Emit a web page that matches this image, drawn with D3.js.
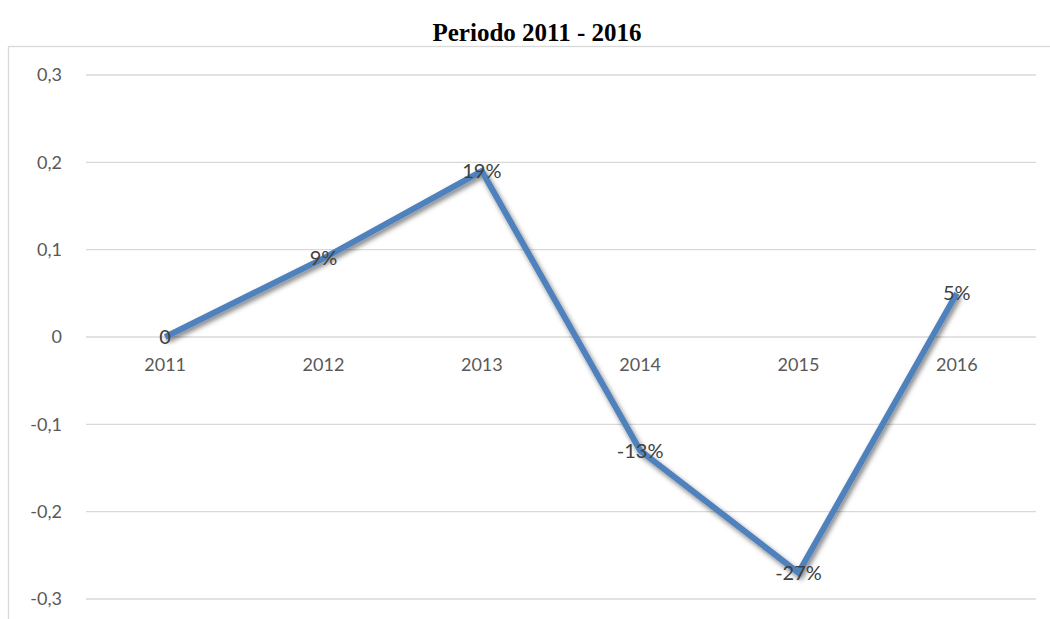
<!DOCTYPE html>
<html>
<head>
<meta charset="utf-8">
<script src="https://cdn.jsdelivr.net/npm/d3@7"></script>
<style>
  body { margin: 0; background: #fff; }
  svg { display: block; }
</style>
</head>
<body>
<svg id="chart"></svg>
<script>
const width = 1050;
const height = 619;

const years = ["2011", "2012", "2013", "2014", "2015", "2016"];
const values = [0, 0.09, 0.19, -0.13, -0.27, 0.05];
const labels = ["0", "9%", "19%", "-13%", "-27%", "5%"];
const yTicks = [0.3, 0.2, 0.1, 0, -0.1, -0.2, -0.3];
const yTickLabels = ["0,3", "0,2", "0,1", "0", "-0,1", "-0,2", "-0,3"];

const svg = d3.select("#chart")
    .attr("width", width)
    .attr("height", height);

// shadow under the line
const defs = svg.append("defs");
const shadow = defs.append("filter")
    .attr("id", "shadow")
    .attr("x", "-10%").attr("y", "-10%")
    .attr("width", "120%").attr("height", "120%");
shadow.append("feDropShadow")
    .attr("dx", 2).attr("dy", 3)
    .attr("stdDeviation", 2.5)
    .attr("flood-color", "#000")
    .attr("flood-opacity", 0.5);

// chart area border
svg.append("rect")
    .attr("x", 8.5).attr("y", 46.5)
    .attr("width", 1100).attr("height", 700)
    .attr("fill", "none")
    .attr("stroke", "#d9d9d9")
    .attr("stroke-width", 1.3);

svg.append("text")
    .attr("x", 537).attr("y", 41)
    .attr("text-anchor", "middle")
    .style("font-family", "'Liberation Serif', 'Times New Roman', serif")
    .style("font-weight", "bold")
    .style("font-size", "25px")
    .attr("fill", "#000")
    .text("Periodo 2011 - 2016");

const x = d3.scaleBand()
    .domain(years)
    .range([86, 1036]);

const y = d3.scaleLinear()
    .domain([-0.3, 0.3])
    .range([599, 75]);

// gridlines
svg.append("g")
    .selectAll("line")
    .data(yTicks)
    .join("line")
    .attr("x1", 86).attr("x2", 1036)
    .attr("y1", d => y(d)).attr("y2", d => y(d))
    .attr("stroke", "#d9d9d9")
    .attr("stroke-width", 1.3);

const axisFont = "Lato, 'Open Sans', sans-serif";

// y axis labels
svg.append("g")
    .selectAll("text")
    .data(yTicks)
    .join("text")
    .attr("x", 62)
    .attr("y", d => y(d))
    .attr("dy", "0.35em")
    .attr("text-anchor", "end")
    .style("font-family", axisFont)
    .style("font-size", "18px")
    .attr("fill", "#595959")
    .text((d, i) => yTickLabels[i]);

// x axis labels (sit just below zero line)
svg.append("g")
    .selectAll("text")
    .data(years)
    .join("text")
    .attr("x", d => x(d) + x.bandwidth() / 2)
    .attr("y", y(0) + 28)
    .attr("dy", "0.35em")
    .attr("text-anchor", "middle")
    .style("font-family", axisFont)
    .style("font-size", "18px")
    .attr("fill", "#595959")
    .text(d => d);

const line = d3.line()
    .x((d, i) => x(years[i]) + x.bandwidth() / 2)
    .y(d => y(d));

svg.append("path")
    .datum(values)
    .attr("d", line)
    .attr("fill", "none")
    .attr("stroke", "#4f81bd")
    .attr("stroke-width", 6)
    .attr("stroke-linejoin", "miter")
    .attr("filter", "url(#shadow)");

// data labels centered on points
svg.append("g")
    .selectAll("text")
    .data(values)
    .join("text")
    .attr("x", (d, i) => x(years[i]) + x.bandwidth() / 2)
    .attr("y", d => y(d))
    .attr("dy", "0.35em")
    .attr("text-anchor", "middle")
    .style("font-family", axisFont)
    .style("font-size", "20px")
    .attr("fill", "#404040")
    .text((d, i) => labels[i]);
</script>
</body>
</html>
